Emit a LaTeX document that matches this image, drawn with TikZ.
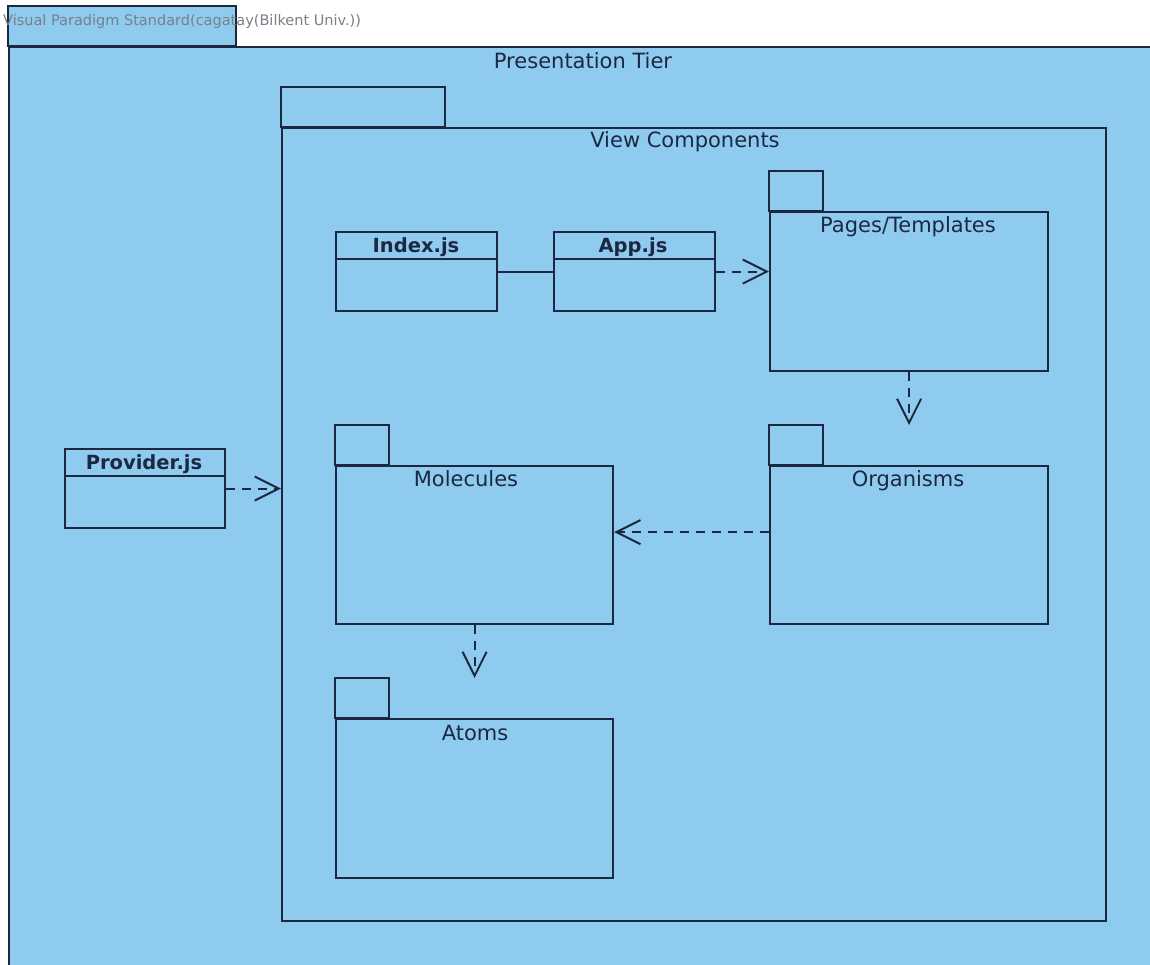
\documentclass[tikz,border=0pt]{standalone}
\usepackage{fontspec}
\setmainfont{DejaVu Sans}
\usetikzlibrary{arrows.meta}
\definecolor{pkgblue}{RGB}{143,203,239}
\definecolor{ink}{RGB}{28,40,66}
\definecolor{stamp}{RGB}{120,128,136}
\tikzset{
  pkg/.style={draw=ink, fill=pkgblue, line width=2.2pt, inner sep=0pt, anchor=north west},
  tab/.style={draw=ink, fill=pkgblue, line width=2.2pt},
  cls/.style={draw=ink, fill=pkgblue, line width=2.2pt, inner sep=0pt, anchor=north west,
              minimum width=161pt, minimum height=79pt},
  divider/.style={draw=ink, line width=2.2pt},
  pkglabel/.style={text=ink, font=\fontsize{21}{24}\selectfont, anchor=base, inner sep=0pt},
  clslabel/.style={text=ink, font=\bfseries\fontsize{19.5}{22}\selectfont, anchor=base, inner sep=0pt},
  assoc/.style={draw=ink, line width=2.2pt},
  depend/.style={draw=ink, line width=2pt, dash pattern=on 9pt off 7pt,
                 -{Straight Barb[length=24pt, width=24pt, line width=2pt]}}
}
\begin{document}
\begin{tikzpicture}[x=1pt, y=-1pt]
  \useasboundingbox (0,0) rectangle (1150,964);
  \clip (0,0) rectangle (1150,964);
  \fill[white] (0,0) rectangle (1150,964);

  % outer package: Presentation Tier (runs past the right and bottom edges)
  \node[pkg, minimum width=1160pt, minimum height=930pt] (tier) at (8,46) {};
  \draw[tab] (tier.north west) rectangle ++(228,-40);
  \node[pkglabel] (tierlbl) at (583,68) {Presentation Tier};

  % package: View Components
  \node[pkg, minimum width=824pt, minimum height=793pt] (view) at (281,127) {};
  \draw[tab] (view.north west) rectangle ++(164,-40);
  \node[pkglabel] (viewlbl) at (685,147) {View Components};

  % classes Index.js and App.js
  \node[cls] (index) at (335,231) {};
  \draw[divider] ([yshift=-28pt]index.north west) -- ([yshift=-28pt]index.north east);
  \node[clslabel] (indexlbl) at (416,252) {Index.js};

  \node[cls] (app) at (553,231) {};
  \draw[divider] ([yshift=-28pt]app.north west) -- ([yshift=-28pt]app.north east);
  \node[clslabel] (applbl) at (633,252) {App.js};

  % package: Pages/Templates
  \node[pkg, minimum width=278pt, minimum height=159pt] (pages) at (769,211) {};
  \draw[tab] (pages.north west) rectangle ++(54,-40);
  \node[pkglabel] (pageslbl) at (908,232) {Pages/Templates};

  % package: Organisms
  \node[pkg, minimum width=278pt, minimum height=158pt] (orgs) at (769,465) {};
  \draw[tab] (orgs.north west) rectangle ++(54,-40);
  \node[pkglabel] (orgslbl) at (908,486) {Organisms};

  % package: Molecules
  \node[pkg, minimum width=277pt, minimum height=158pt] (mol) at (335,465) {};
  \draw[tab] (mol.north west) rectangle ++(54,-40);
  \node[pkglabel] (mollbl) at (466,486) {Molecules};

  % package: Atoms
  \node[pkg, minimum width=277pt, minimum height=159pt] (atoms) at (335,718) {};
  \draw[tab] (atoms.north west) rectangle ++(54,-40);
  \node[pkglabel] (atomslbl) at (475,740) {Atoms};

  % class Provider.js
  \node[cls, minimum width=160pt] (prov) at (64,448) {};
  \draw[divider] ([yshift=-28pt]prov.north west) -- ([yshift=-28pt]prov.north east);
  \node[clslabel] (provlbl) at (144,469) {Provider.js};

  % connectors
  \draw[assoc] (index.east) -- (app.east -| app.west);
  \draw[depend] (app.east) -- (app.east -| pages.west);
  \draw[depend] (pages.south) -- ([yshift=40pt]orgs.north -| pages.south);
  \draw[depend] ([yshift=13pt]orgs.west) -- ([yshift=13pt]mol.east);
  \draw[depend] (mol.south) -- ([yshift=40pt]atoms.north -| mol.south);
  \draw[depend] (prov.east) -- (prov.east -| view.west);

  % edition stamp across the top
  \node[text=stamp, font=\fontsize{14.5}{16}\selectfont, anchor=base west, inner sep=0pt]
    (stampnote) at (3,25) {Visual Paradigm Standard(cagatay(Bilkent Univ.))};
\end{tikzpicture}
\end{document}
